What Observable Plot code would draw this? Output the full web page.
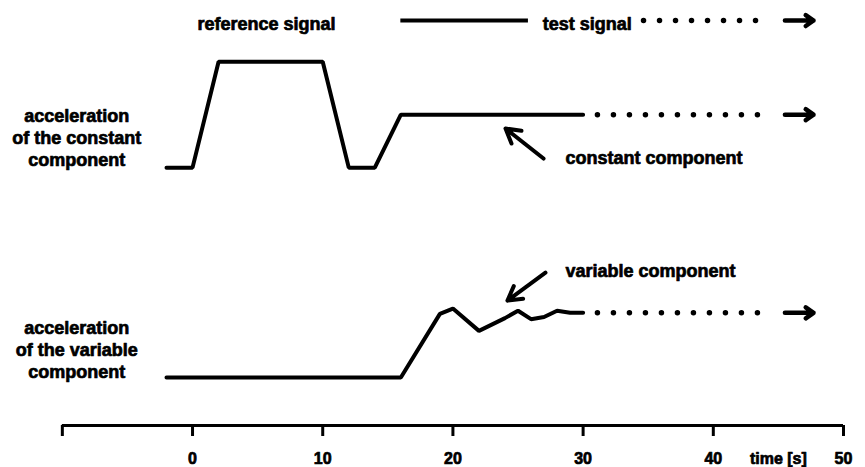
<!DOCTYPE html>
<html>
<head>
<meta charset="utf-8">
<script src="https://cdn.jsdelivr.net/npm/d3@7"></script>
<script src="https://cdn.jsdelivr.net/npm/@observablehq/plot@0.6"></script>
<style>
  html, body { margin: 0; padding: 0; background: #fff; }
  #chart svg { display: block; }
  #chart svg text { stroke: #000; stroke-width: 0.7px; stroke-linejoin: round; }
</style>
</head>
<body>
<div id="chart"></div>
<script>
// ---- data ----
// reference + test signal, constant component (time in s, level in arbitrary units)
const constantTimes  = [-2, 0, 2, 10, 12, 14, 16, 30];
const constantValues = [0, 0, 1, 1, 0, 0, 0.5, 0.5];
// variable component
const variableTimes  = [-2, 16, 19, 20, 22, 24, 25, 26, 27, 28, 29, 30];
const variableValues = [0, 0, 0.6, 0.65, 0.44, 0.56, 0.63, 0.55, 0.57, 0.63, 0.61, 0.61];
// continuation of the test signal (dotted) and the arrow after it
const dottedTimes = [31.1, 44.5];
const arrowTimes  = [45.5, 47.7];
// axis ticks
const tickValues = [-10, 0, 10, 20, 30, 40, 50];
const tickLabels = ["", "0", "10", "20", "30", "40", "50"];
const axisTitle = "time [s]";
const axisTitleTime = 45;
// texts
const rowLabels = ["acceleration\nof the constant\ncomponent", "acceleration\nof the variable\ncomponent"];
const annotationLabels = ["constant component", "variable component"];
const legendLabels = ["reference signal", "test signal"];

// ---- layout constants (vertical placement of the two rows) ----
const constantOffset = 1.98;   // constant row sits above the variable row
const legendLevel = 3.368;
const labelX = -8.9;
const annotX = 28.65;

const constantData = constantTimes.map((t, i) => ({t, v: constantValues[i] + constantOffset}));
const variableData = variableTimes.map((t, i) => ({t, v: variableValues[i]}));

const constEnd = constantValues[constantValues.length - 1] + constantOffset;
const varEnd = variableValues[variableValues.length - 1];

const dotted = [
  ...dottedTimes.map(t => ({t, v: constEnd, row: "c"})),
  ...dottedTimes.map(t => ({t, v: varEnd, row: "v"})),
  ...[34.64, 44.4].map(t => ({t, v: legendLevel, row: "l"}))
];
const rightArrows = [
  {x1: arrowTimes[0], x2: arrowTimes[1], y: constEnd},
  {x1: arrowTimes[0], x2: arrowTimes[1], y: varEnd},
  {x1: arrowTimes[0], x2: arrowTimes[1], y: legendLevel}
];
const pointerArrows = [
  {x1: 26.96, y1: 2.066, x2: 24.04, y2: 2.349},
  {x1: 27.11, y1: 0.99, x2: 24.19, y2: 0.726}
];
const rowLabelData = [
  {text: rowLabels[0], x: labelX, y: 2.27},
  {text: rowLabels[1], x: labelX, y: 0.27}
];
const annotData = [
  {text: annotationLabels[0], x: annotX, y: 2.066},
  {text: annotationLabels[1], x: annotX, y: 1.0}
];
const yMin = -0.453;
const font = "'Liberation Sans', Arial, Helvetica, sans-serif";

const chart = Plot.plot({
  width: 865,
  height: 467,
  marginTop: 0,
  marginBottom: 42,
  marginLeft: 0,
  marginRight: 0,
  x: {domain: [-14.75, 51.69]},
  y: {domain: [yMin, 3.557], axis: null},
  style: {fontFamily: font, fontWeight: "bold", fontSize: "18px", color: "#000", background: "#fff"},
  marks: [
    // axis line + ticks
    Plot.ruleY([{y: yMin, x1: tickValues[0], x2: tickValues[tickValues.length - 1]}],
      {y: "y", x1: "x1", x2: "x2", strokeWidth: 3, stroke: "#000"}),
    Plot.axisX({
      ticks: tickValues,
      tickFormat: (d) => tickLabels[tickValues.indexOf(d)],
      tickSize: 11,
      tickPadding: 16,
      strokeWidth: 3,
      fontSize: 16,
      fontWeight: "bold",
      label: null
    }),
    Plot.text([axisTitle], {x: axisTitleTime, frameAnchor: "bottom", dy: 33, fontSize: 16, fontWeight: "bold", lineAnchor: "middle"}),
    // signals
    Plot.line(constantData, {x: "t", y: "v", stroke: "#000", strokeWidth: 4, strokeLinejoin: "miter"}),
    Plot.line(variableData, {x: "t", y: "v", stroke: "#000", strokeWidth: 4, strokeLinejoin: "miter"}),
    // dotted continuations
    Plot.line(dotted, {x: "t", y: "v", z: "row", stroke: "#000", strokeWidth: 5.5, strokeDasharray: "0,16", strokeLinecap: "round"}),
    Plot.arrow(rightArrows, {x1: "x1", x2: "x2", y1: "y", y2: "y", stroke: "#000", strokeWidth: 4.5, headLength: 12, headAngle: 70}),
    // legend row
    Plot.ruleY([{y: legendLevel, x1: 16, x2: 25.8}], {y: "y", x1: "x1", x2: "x2", stroke: "#000", strokeWidth: 4}),
    Plot.text([legendLabels[0]], {x: 5.68, y: 3.33, textAnchor: "middle", lineAnchor: "middle"}),
    Plot.text([legendLabels[1]], {x: 26.9, y: 3.33, textAnchor: "start", lineAnchor: "middle"}),
    // labels
    Plot.text(rowLabelData, {x: "x", y: "y", text: "text", textAnchor: "middle", lineAnchor: "middle", lineHeight: 1.22}),
    Plot.text(annotData, {x: "x", y: "y", text: "text", textAnchor: "start", lineAnchor: "middle"}),
    Plot.arrow(pointerArrows, {x1: "x1", y1: "y1", x2: "x2", y2: "y2", stroke: "#000", strokeWidth: 4, headLength: 13, headAngle: 60})
  ]
});
document.getElementById("chart").appendChild(chart);
</script>
</body>
</html>
